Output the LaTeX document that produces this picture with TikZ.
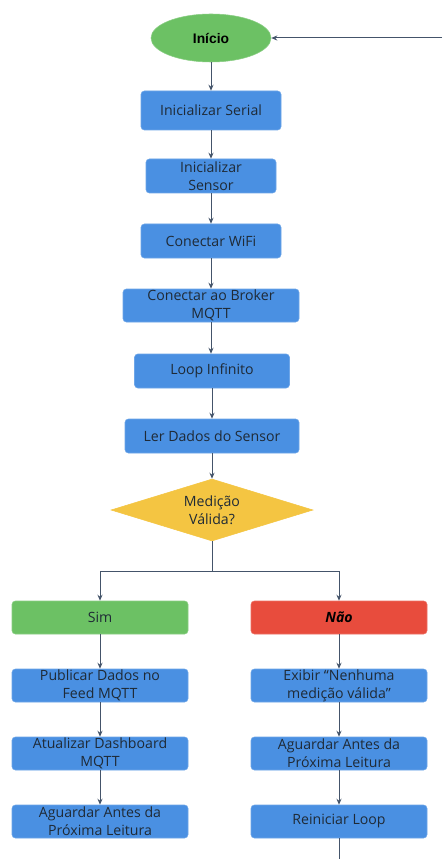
\documentclass[tikz,border=0pt]{standalone}
\usepackage{fontspec}
\setmainfont{Open Sans}
\newfontfamily\arialf{Liberation Sans}
\usetikzlibrary{shapes.geometric,arrows.meta}
\definecolor{boxblue}{HTML}{4A90E2}
\definecolor{boxgreen}{HTML}{6CC164}
\definecolor{boxred}{HTML}{E84C3D}
\definecolor{boxyellow}{HTML}{F4C542}
\definecolor{linec}{HTML}{44546A}
\definecolor{txt}{HTML}{1F2A36}
\begin{document}
\begin{tikzpicture}[x=0.75pt,y=-0.75pt,
  every node/.style={font=\fontsize{10.6}{13.4}\selectfont, text=txt, align=center},
  box/.style={rectangle, rounded corners=2.5pt, fill=boxblue, draw=boxblue!80!white, line width=0.4pt, inner sep=0pt, minimum height=24.75pt},
  wide/.style={box, minimum width=132pt},
  arr/.style={draw=linec, line width=0.75pt, -{Stealth[length=4.5pt,width=3.8pt]}},
  ln/.style={draw=linec, line width=0.75pt}
]
\useasboundingbox (0,0) rectangle (442,859);
\fill[white] (0,0) rectangle (442,859);

\node[ellipse, fill=boxgreen, draw=boxgreen!80!white, minimum width=90pt, minimum height=36pt, inner sep=0pt, font=\arialf\bfseries\fontsize{10.4}{12}\selectfont, text=black] (start) at (211,38) {Início};
\node[box, minimum width=105pt, minimum height=29.25pt] (ser) at (211,110.5) {Inicializar Serial};
\node[box, minimum width=97.5pt, minimum height=25.5pt] (sen) at (211,176) {Inicializar\\Sensor};
\node[box, minimum width=105pt, minimum height=25.5pt] (wifi) at (211,241) {Conectar WiFi};
\node[box, minimum width=132pt] (brk) at (211,305.5) {Conectar ao Broker\\MQTT};
\node[box, minimum width=116.25pt, minimum height=25.5pt] (loop) at (212,371) {Loop Infinito};
\node[box, minimum width=130.5pt, minimum height=25.5pt] (ler) at (212,436) {Ler Dados do Sensor};
\node[diamond, fill=boxyellow, draw=boxyellow, minimum width=151.5pt, minimum height=46.5pt, inner sep=0pt] (dia) at (212,510) {};
\node at (dia) {Medição\\Válida?};

\node[wide, fill=boxgreen, draw=boxgreen!80!white] (sim) at (100,617.5) {Sim};
\node[wide, fill=boxred, draw=boxred!80!white, font=\bfseries\itshape\fontsize{10.6}{13.4}\selectfont, text=black] (nao) at (339,617.5) {Não};
\node[wide] (pub) at (100,685.5) {Publicar Dados no\\Feed MQTT};
\node[wide] (exi) at (339,685.5) {Exibir “Nenhuma\\medição válida”};
\node[wide] (atu) at (100,753.5) {Atualizar Dashboard\\MQTT};
\node[wide] (agr) at (339,753.5) {Aguardar Antes da\\Próxima Leitura};
\node[wide] (agl) at (100,821.5) {Aguardar Antes da\\Próxima Leitura};
\node[wide] (rei) at (339,821.5) {Reiniciar Loop};

\draw[arr] (start) -- (ser);
\draw[arr] (ser) -- (sen);
\draw[arr] (sen) -- (wifi);
\draw[arr] (wifi) -- (brk);
\draw[arr] (brk.south) -- (brk.south |- loop.north);
\draw[arr] (loop) -- (ler);
\draw[arr] (ler) -- (dia);
\coordinate (br) at (212,571);
\draw[ln] (dia.south) -- (br);
\draw[arr] (br) -| (sim.north);
\draw[arr] (br) -| (nao.north);
\draw[arr] (sim) -- (pub);
\draw[arr] (pub) -- (atu);
\draw[arr] (atu) -- (agl);
\draw[arr] (nao) -- (exi);
\draw[arr] (exi) -- (agr);
\draw[arr] (agr) -- (rei);
\coordinate (bot) at (339,859);
\draw[ln] (rei.south) -- (bot);
\coordinate (rt) at (442,38);
\draw[arr] (rt) -- (start.east);
\end{tikzpicture}
\end{document}
